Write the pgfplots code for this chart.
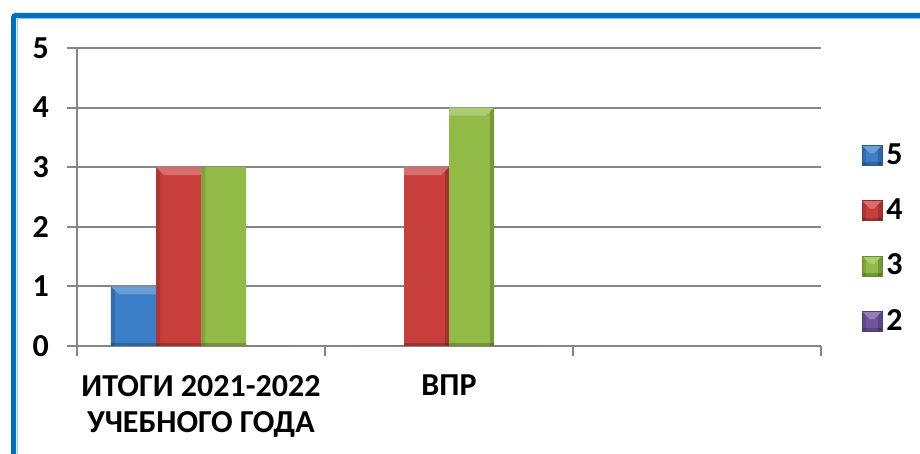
\documentclass[border=0pt]{standalone}
\usepackage{pgfplots}
\pgfplotsset{compat=1.18}
\usepackage{fontspec}
\setmainfont{Carlito}
\definecolor{cB}{RGB}{60,125,200}
\definecolor{cR}{RGB}{200,62,60}
\definecolor{cG}{RGB}{146,186,70}
\definecolor{cP}{RGB}{112,84,160}
\definecolor{cBd}{RGB}{40,90,150}
\definecolor{cRd}{RGB}{150,40,40}
\definecolor{cGd}{RGB}{105,140,45}
\definecolor{cPd}{RGB}{80,60,120}
\definecolor{gridgray}{RGB}{134,134,134}
\definecolor{frameblue}{RGB}{0,112,192}
\definecolor{framelight}{RGB}{157,195,230}
\tikzset{bevel/.style={path picture={
  \fill[path picture={}, white, opacity=0.25] (path picture bounding box.north west) -- (path picture bounding box.north east)
     -- ([xshift=-4pt,yshift=-4pt]path picture bounding box.north east) -- ([xshift=4pt,yshift=-4pt]path picture bounding box.north west) -- cycle;
  \fill[path picture={}, black, opacity=0.12] (path picture bounding box.north west) -- ([xshift=2pt,yshift=-2pt]path picture bounding box.north west)
     -- ([xshift=2pt]path picture bounding box.south west) -- (path picture bounding box.south west) -- cycle;
  \fill[path picture={}, black, opacity=0.18] (path picture bounding box.north east) -- ([xshift=-2pt,yshift=-2pt]path picture bounding box.north east)
     -- ([xshift=-2pt]path picture bounding box.south east) -- (path picture bounding box.south east) -- cycle;
  \fill[path picture={}, black, opacity=0.2] (path picture bounding box.south west) rectangle ([yshift=1.5pt]path picture bounding box.south east);
}}}
\begin{document}
\begin{tikzpicture}
\useasboundingbox (0,0) rectangle (460pt,227pt);
\fill[white] (0,0) rectangle (460pt,227pt);
\begin{axis}[
  at={(38.5pt,54pt)}, anchor=south west,
  scale only axis, width=372pt, height=149pt,
  ybar=0pt, bar width=22.5pt,
  xmin=-0.5, xmax=2.5, ymin=0, ymax=5,
  xtick={-0.5,0.5,1.5,2.5},
  xticklabels={{ИТОГИ 2021-2022\\УЧЕБНОГО ГОДА},{ВПР},{}},
  x tick label as interval,
  ytick={0,1,2,3,4,5},
  axis x line*=bottom, axis y line*=left,
  axis line style={-, draw=gridgray, line width=1pt},
  ymajorgrids, grid style={draw=gridgray, line width=1pt},
  tick style={draw=gridgray, line width=1pt},
  tick align=outside, major tick length=5pt,
  ticklabel style={font=\fontsize{16}{18}\selectfont\bfseries},
  /pgf/number format/assume math mode=true,
  xticklabel style={align=center, yshift=-6pt},
  yticklabel style={xshift=-5.5pt},
  legend style={at={(axis description cs:1.046,0.361)}, anchor=west,
    draw=none, fill=none, row sep=11.75pt,
    font=\fontsize{16}{18}\selectfont\bfseries,
    /tikz/every even column/.append style={column sep=1.5pt}},
  legend cell align=left,
]
\addplot[fill=cB, draw=none, bevel, legend image code/.code={\draw[fill=cB, draw=cBd, line width=0.4pt] (0pt,-5pt) rectangle (10pt,5pt);}]
  coordinates {(0,1) (1,0)};
\addplot[fill=cR, draw=none, bevel, legend image code/.code={\draw[fill=cR, draw=cRd, line width=0.4pt] (0pt,-5pt) rectangle (10pt,5pt);}]
  coordinates {(0,3) (1,3)};
\addplot[fill=cG, draw=none, bevel, legend image code/.code={\draw[fill=cG, draw=cGd, line width=0.4pt] (0pt,-5pt) rectangle (10pt,5pt);}]
  coordinates {(0,3) (1,4)};
\addplot[fill=cP, draw=none, bevel, legend image code/.code={\draw[fill=cP, draw=cPd, line width=0.4pt] (0pt,-5pt) rectangle (10pt,5pt);}]
  coordinates {(0,0) (1,0)};
\legend{5,4,3,2}
\end{axis}
\draw[line width=0.6pt, framelight] (8.6pt,-5pt) -- (8.6pt,217.6pt) -- (470pt,217.6pt);
\draw[line width=2.5pt, frameblue, rounded corners=1pt] (6.75pt,-5pt) -- (6.75pt,219.25pt) -- (470pt,219.25pt);
\end{tikzpicture}
\end{document}
